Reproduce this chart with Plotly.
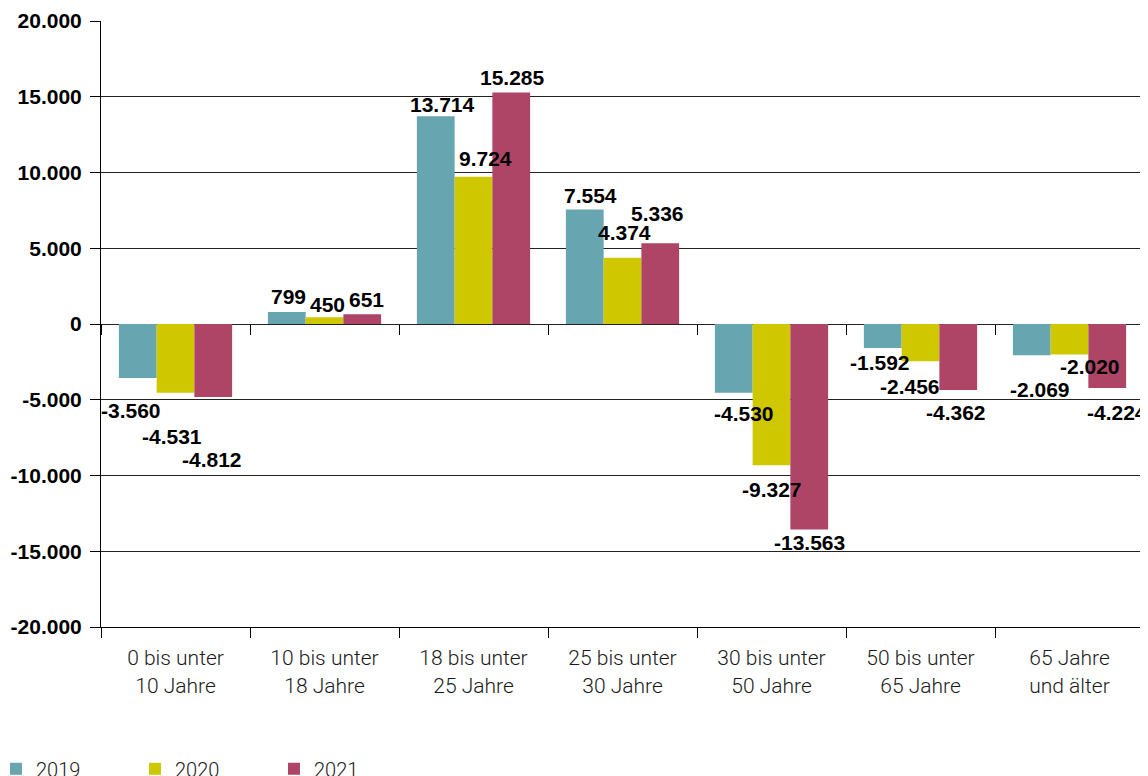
import plotly.graph_objects as go

# Altersgruppen
categories = [
    "0 bis unter<br>10 Jahre",
    "10 bis unter<br>18 Jahre",
    "18 bis unter<br>25 Jahre",
    "25 bis unter<br>30 Jahre",
    "30 bis unter<br>50 Jahre",
    "50 bis unter<br>65 Jahre",
    "65 Jahre<br>und älter",
]

years = ["2019", "2020", "2021"]
values_2019 = [-3560, 799, 13714, 7554, -4530, -1592, -2069]
values_2020 = [-4531, 450, 9724, 4374, -9327, -2456, -2020]
values_2021 = [-4812, 651, 15285, 5336, -13563, -4362, -4224]

y_tickvals = [20000, 15000, 10000, 5000, 0, -5000, -10000, -15000, -20000]
y_ticktext = ["20.000", "15.000", "10.000", "5.000", "0",
              "-5.000", "-10.000", "-15.000", "-20.000"]

colors = ["#67a5b0", "#cfc800", "#ae4566"]
FONT = "Liberation Sans"
LIGHT = "Roboto"

# label nudges in pixels (x, y) per series, as placed in the original layout
label_dx = [
    [-7, 1, 6, 5, 10, -3, 8],
    [-4, 3, 12, 2, 0, -11, 20],
    [-1, 4, 1, -3, 0, -2, 10],
]
label_dy = [
    [33, -15, -12, -14, 21, 14, 34],
    [44, -13, -18, -25, 24, 25, 12],
    [63, -15, -15, -30, 13, 22, 25],
]
slot_px = [-37.5, 0, 37.5]


def fmt(v):
    return f"{v:,}".replace(",", ".")


fig = go.Figure()
annotations = []

series = [values_2019, values_2020, values_2021]
for i, (name, vals, col) in enumerate(zip(years, series, colors)):
    fig.add_trace(go.Bar(
        x=categories,
        y=vals,
        name=name,
        marker=dict(color=col, line=dict(width=0)),
        hoverinfo="x+y",
    ))
    for j, (cat, v) in enumerate(zip(categories, vals)):
        annotations.append(dict(
            x=cat,
            y=v,
            xref="x",
            yref="y",
            text=fmt(v),
            showarrow=False,
            xanchor="center",
            yanchor="middle",
            xshift=slot_px[i] + label_dx[i][j],
            yshift=-label_dy[i][j],
            font=dict(family=FONT, size=21, color="black", weight="bold"),
        ))

# invisible trace that carries the tick marks at the zero line
fig.add_trace(go.Scatter(
    x=categories,
    y=[0] * len(categories),
    xaxis="x2",
    mode="markers",
    marker=dict(opacity=0),
    showlegend=False,
    hoverinfo="skip",
))

n_cat = len(categories)

# page body keeps its default 8px margin, so the figure is 8px smaller
fig.update_layout(
    width=1140,
    height=768,
    barmode="group",
    bargap=0.24,
    bargroupgap=0,
    plot_bgcolor="white",
    paper_bgcolor="white",
    margin=dict(l=93, r=4, t=13, b=149, autoexpand=False),
    font=dict(family=LIGHT, size=20, color="#1a1a1a"),
    annotations=annotations,
    xaxis=dict(
        type="category",
        range=[-0.5, n_cat - 0.5],
        tickson="boundaries",
        ticks="outside",
        ticklen=10,
        tickcolor="black",
        showline=True,
        linecolor="black",
        showgrid=False,
        automargin=False,
        ticklabelstandoff=12,
        tickfont=dict(family=LIGHT, size=21, color="#1a1a1a", weight=300),
    ),
    xaxis2=dict(
        type="category",
        overlaying="x",
        matches="x",
        anchor="free",
        position=0.5,
        side="bottom",
        tickson="boundaries",
        ticks="outside",
        ticklen=10,
        tickcolor="black",
        showticklabels=False,
        showline=False,
        showgrid=False,
        automargin=False,
    ),
    yaxis=dict(
        range=[-20000, 20000],
        tickvals=y_tickvals,
        ticktext=y_ticktext,
        ticks="outside",
        ticklen=10,
        tickcolor="black",
        showline=True,
        linecolor="black",
        showgrid=True,
        gridcolor="#222222",
        gridwidth=1,
        zeroline=True,
        zerolinecolor="#222222",
        zerolinewidth=1,
        automargin=False,
        ticklabelstandoff=4,
        tickfont=dict(family=FONT, size=21, color="black", weight="bold"),
    ),
    legend=dict(
        orientation="h",
        x=-0.1007,
        xanchor="left",
        y=-0.234,
        yanchor="middle",
        entrywidth=94,
        font=dict(family=LIGHT, size=20, color="#1a1a1a", weight=300),
        itemclick=False,
    ),
    showlegend=True,
)

fig.write_html("out.html")
